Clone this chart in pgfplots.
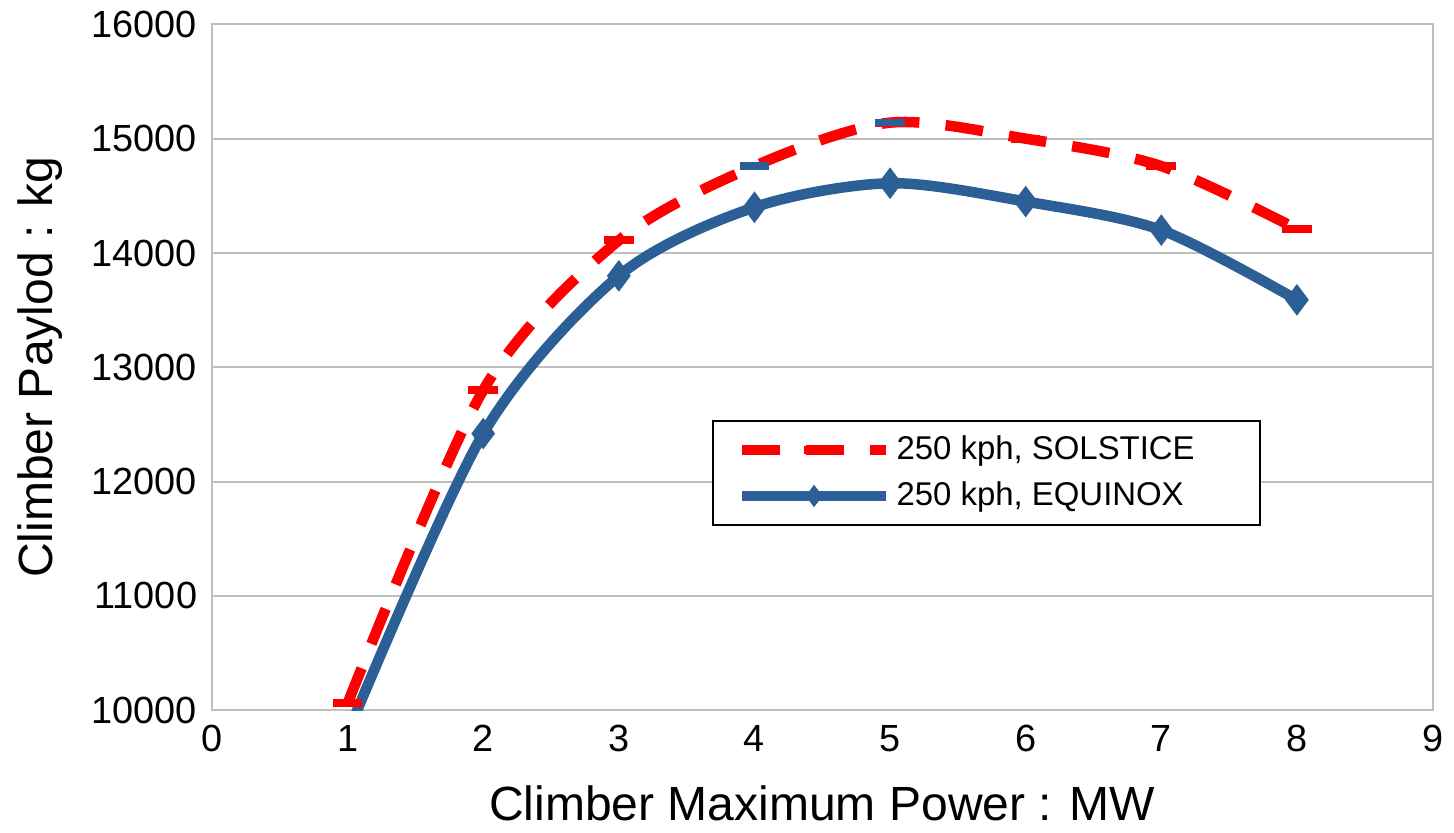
\documentclass[border=0pt]{standalone}
\usepackage{fontspec}
\setmainfont{Liberation Sans}
\usepackage{pgfplots}
\pgfplotsset{compat=1.18}
\definecolor{eqblue}{HTML}{2C5F96}
\definecolor{gridgray}{HTML}{BFBFBF}

\begin{document}
\begin{tikzpicture}
\begin{axis}[
    width=371pt, height=208.5pt, scale only axis,
    xmin=0, xmax=9, ymin=10000, ymax=16000,
    xtick={0,1,...,9}, ytick={10000,11000,...,16000},
    major tick length=0pt,
    ymajorgrids, grid style={gridgray, line width=0.6pt},
    axis line style={gridgray, line width=0.6pt},
    /pgf/number format/assume math mode=true,
    yticklabel style={/pgf/number format/set thousands separator={}, font=\fontsize{11.5}{14}\selectfont, xshift=-1pt},
    xticklabel style={font=\fontsize{11.5}{14}\selectfont, yshift=-1pt},
    scaled y ticks=false,
    xlabel={Climber Maximum Power : MW},
    ylabel={Climber Paylod : kg},
    label style={font=\fontsize{14.6}{17}\selectfont},
    xlabel style={at={(axis description cs:0.5,-0.161)}, anchor=base},
    ylabel style={at={(axis description cs:-0.1405,0.5)}, anchor=center, inner ysep=5.5pt},
    clip=true,
    legend style={at={(axis cs:3.69,12540)}, anchor=north west,
      draw=black, line width=0.6pt, font=\fontsize{10}{12}\selectfont,
      inner xsep=7pt, inner ysep=3pt, row sep=2.2pt,
      nodes={inner sep=1.5pt}},
    legend cell align=left,
    legend image code/.code={
      \draw[#1] (0pt,0pt) -- (44pt,0pt);
      \draw[#1, mark size=3pt] plot coordinates {(22pt,0pt)};
    },
]
\addplot[red, line width=3.2pt, dash pattern=on 11.5pt off 8pt, smooth, tension=0.5,
  mark=-, mark size=4.5pt, mark options={solid, line width=2.4pt}]
  coordinates {(1,10060) (2,12800) (3,14110) (4,14760) (5,15140) (6,15000) (7,14760) (8,14210)};
\addlegendentry{\makebox[102pt][l]{250 kph, SOLSTICE}}
\addplot[eqblue, line width=3.2pt, smooth, tension=0.5,
  mark=diamond*, mark size=4.4pt, mark options={solid, line width=0.5pt}]
  coordinates {(1,9800) (2,12420) (3,13800) (4,14400) (5,14610) (6,14450) (7,14200) (8,13590)};
\addlegendentry{250 kph, EQUINOX}
% blue dash marks drawn over the solstice points at 4 and 5 MW
\addplot[eqblue, only marks, mark=-, mark size=4.5pt, mark options={line width=2.2pt}, forget plot]
  coordinates {(4,14760) (5,15140)};
\end{axis}
\end{tikzpicture}
\end{document}
